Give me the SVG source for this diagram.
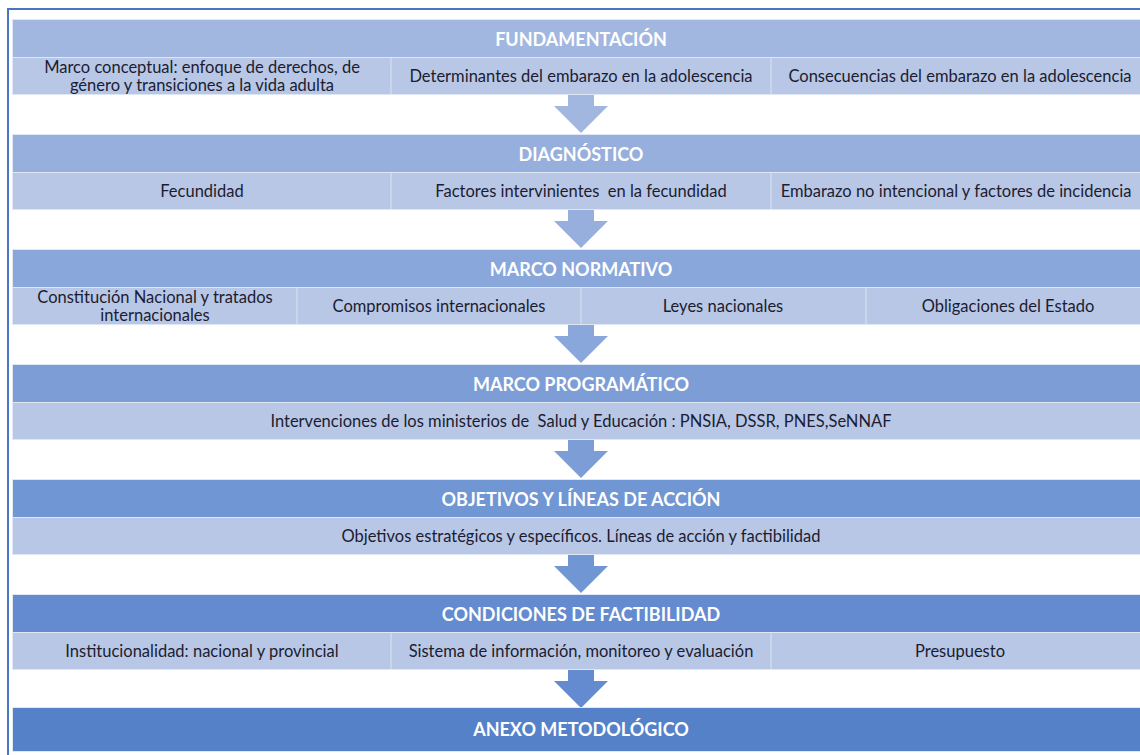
<svg xmlns="http://www.w3.org/2000/svg" width="1140" height="755" viewBox="0 0 1140 755">
<style>
.hd{font-family:Lato,"Liberation Sans",sans-serif;font-weight:bold;font-size:18px;fill:#ffffff;text-anchor:middle}
.tx{font-family:Lato,"Liberation Sans",sans-serif;font-size:16.5px;fill:#1c1c30;text-anchor:middle}
.sub{fill:#b8c7e6;stroke:#dfe6f4;stroke-width:1}
.hb{stroke:#dfe6f4;stroke-width:1}
.dv{stroke:#d6dff0;stroke-width:1.2}
</style>
<rect x="0" y="0" width="1140" height="755" fill="#ffffff"/>
<path d="M8 760 V9 H1145" fill="none" stroke="#4a74c4" stroke-width="2"/>

<g id="connectors">
<path d="M568 95 H594 V106 H608 L581 133 L554 106 H568 Z" fill="#a2b7e0"/>
<path d="M568 210 H594 V221 H608 L581 248 L554 221 H568 Z" fill="#97afdd"/>
<path d="M568 325 H594 V336 H608 L581 363 L554 336 H568 Z" fill="#89a7db"/>
<path d="M568 440 H594 V451 H608 L581 478 L554 451 H568 Z" fill="#7c9dd6"/>
<path d="M568 555 H594 V566 H608 L581 593 L554 566 H568 Z" fill="#7096d3"/>
<path d="M568 670 H594 V681 H608 L581 708 L554 681 H568 Z" fill="#648bcf"/>
</g>

<g id="fundamentacion">
<rect class="hb" x="12.5" y="19.5" width="1140" height="38" fill="#a2b7e0"/>
<text class="hd" x="581" y="46">FUNDAMENTACIÓN</text>
<rect class="sub" x="12.5" y="57.5" width="1140" height="37"/>
<line class="dv" x1="391" y1="58" x2="391" y2="94"/>
<line class="dv" x1="771" y1="58" x2="771" y2="94"/>
<text class="tx" x="202" y="73">Marco conceptual: enfoque de derechos, de</text>
<text class="tx" x="202" y="91">género y transiciones a la vida adulta</text>
<text class="tx" x="581" y="82">Determinantes del embarazo en la adolescencia</text>
<text class="tx" x="960" y="82">Consecuencias del embarazo en la adolescencia</text>
</g>

<g id="diagnostico">
<rect class="hb" x="12.5" y="134.5" width="1140" height="38" fill="#97afdd"/>
<text class="hd" x="581" y="161">DIAGNÓSTICO</text>
<rect class="sub" x="12.5" y="172.5" width="1140" height="37"/>
<line class="dv" x1="391" y1="173" x2="391" y2="209"/>
<line class="dv" x1="771" y1="173" x2="771" y2="209"/>
<text class="tx" x="202" y="197">Fecundidad</text>
<text class="tx" x="581" y="197" xml:space="preserve">Factores intervinientes  en la fecundidad</text>
<text class="tx" x="956" y="197">Embarazo no intencional y factores de incidencia</text>
</g>

<g id="marco-normativo">
<rect class="hb" x="12.5" y="249.5" width="1140" height="38" fill="#89a7db"/>
<text class="hd" x="581" y="276">MARCO NORMATIVO</text>
<rect class="sub" x="12.5" y="287.5" width="1140" height="37"/>
<line class="dv" x1="297" y1="288" x2="297" y2="324"/>
<line class="dv" x1="581" y1="288" x2="581" y2="324"/>
<line class="dv" x1="866" y1="288" x2="866" y2="324"/>
<text class="tx" x="155" y="303">Constitución Nacional y tratados</text>
<text class="tx" x="155" y="321">internacionales</text>
<text class="tx" x="439" y="312">Compromisos internacionales</text>
<text class="tx" x="723" y="312">Leyes nacionales</text>
<text class="tx" x="1008" y="312">Obligaciones del Estado</text>
</g>

<g id="marco-programatico">
<rect class="hb" x="12.5" y="364.5" width="1140" height="38" fill="#7c9dd6"/>
<text class="hd" x="581" y="391">MARCO PROGRAMÁTICO</text>
<rect class="sub" x="12.5" y="402.5" width="1140" height="37"/>
<text class="tx" x="581" y="427" xml:space="preserve">Intervenciones de los ministerios de  Salud y Educación : PNSIA, DSSR, PNES,SeNNAF</text>
</g>

<g id="objetivos">
<rect class="hb" x="12.5" y="479.5" width="1140" height="38" fill="#7096d3"/>
<text class="hd" x="581" y="506">OBJETIVOS Y LÍNEAS DE ACCIÓN</text>
<rect class="sub" x="12.5" y="517.5" width="1140" height="37"/>
<text class="tx" x="581" y="542">Objetivos estratégicos y específicos. Líneas de acción y factibilidad</text>
</g>

<g id="condiciones">
<rect class="hb" x="12.5" y="594.5" width="1140" height="38" fill="#648bcf"/>
<text class="hd" x="581" y="621">CONDICIONES DE FACTIBILIDAD</text>
<rect class="sub" x="12.5" y="632.5" width="1140" height="37"/>
<line class="dv" x1="391" y1="633" x2="391" y2="669"/>
<line class="dv" x1="771" y1="633" x2="771" y2="669"/>
<text class="tx" x="202" y="657">Institucionalidad: nacional y provincial</text>
<text class="tx" x="581" y="657">Sistema de información, monitoreo y evaluación</text>
<text class="tx" x="960" y="657">Presupuesto</text>
</g>

<g id="anexo">
<rect class="hb" x="12.5" y="707.5" width="1140" height="44" fill="#5581c9"/>
<text class="hd" x="581" y="736">ANEXO METODOLÓGICO</text>
</g>
</svg>
